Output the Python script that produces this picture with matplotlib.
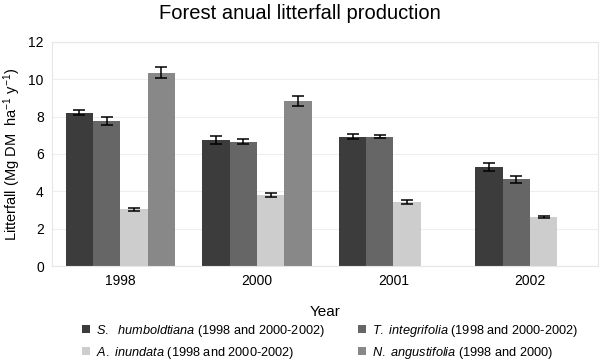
import numpy as np
import matplotlib.pyplot as plt

plt.rcParams["font.family"] = ["Liberation Sans", "DejaVu Sans"]
plt.rcParams["mathtext.fontset"] = "custom"
plt.rcParams["mathtext.rm"] = "Liberation Sans"
plt.rcParams["mathtext.it"] = "Liberation Sans:italic"

years = ["1998", "2000", "2001", "2002"]

# mean litterfall per species, nan = not measured
s_humb = [8.2, 6.75, 6.93, 5.3]
t_integ = [7.78, 6.66, 6.93, 4.65]
a_inun = [3.03, 3.82, 3.44, 2.61]
n_angu = [10.35, 8.84, np.nan, np.nan]

s_err = [0.13, 0.2, 0.15, 0.22]
t_err = [0.22, 0.15, 0.07, 0.18]
a_err = [0.08, 0.11, 0.11, 0.05]
n_err = [0.28, 0.27, np.nan, np.nan]

labels = [
    r"$\it{S.\ \ humboldtiana}$ (1998 and 2000-2002)",
    r"$\it{T.\ integrifolia}$ (1998 and 2000-2002)",
    r"$\it{A.\ inundata}$ (1998 and 2000-2002)",
    r"$\it{N.\ angustifolia}$ (1998 and 2000)",
]
colors = ["#3c3c3c", "#666666", "#cdcdcd", "#888888"]

fig = plt.figure(figsize=(6, 3.64), dpi=100)
ax = fig.add_axes([0.087, 0.269, 0.91, 0.616])

x = np.arange(len(years))
w = 0.2
series = [(s_humb, s_err), (t_integ, t_err), (a_inun, a_err), (n_angu, n_err)]
handles = []
for i, (vals, errs) in enumerate(series):
    pos = x + (i - 1.5) * w
    b = ax.bar(pos, vals, width=w, color=colors[i], zorder=2)
    ax.errorbar(pos, vals, yerr=errs, fmt="none", ecolor="black",
                elinewidth=1.1, capsize=4, capthick=1.1, zorder=3)
    handles.append(b)

ax.set_xlim(-0.5, 3.5)
ax.set_ylim(0, 12)
ax.set_yticks(range(0, 13, 2))
ax.set_xticks(x)
ax.set_xticklabels(years)
ax.tick_params(length=0, labelsize=10, pad=6)
ax.yaxis.grid(True, color="#eeeeee", linewidth=0.8, zorder=0)
for sp in ax.spines.values():
    sp.set_color("#e6e6e6")
    sp.set_linewidth(0.8)

ax.set_ylabel(r"Litterfall (Mg DM  ha$^{-1}$ y$^{-1}$)", fontsize=10.5)
ax.set_xlabel("Year", fontsize=11, labelpad=12)
fig.suptitle("Forest anual litterfall production", fontsize=14.5, y=0.99)

# legend fills column-first, so order S, A | T, N
order = [0, 2, 1, 3]
fig.legend([handles[i] for i in order], [labels[i] for i in order],
           loc="upper left", bbox_to_anchor=(0.128, 0.127),
           ncol=2, frameon=False, fontsize=9.2, handlelength=0.6, handleheight=0.6,
           handletextpad=0.5, columnspacing=2.6, labelspacing=0.45, borderaxespad=0)

fig.savefig("out.png", dpi=100)
